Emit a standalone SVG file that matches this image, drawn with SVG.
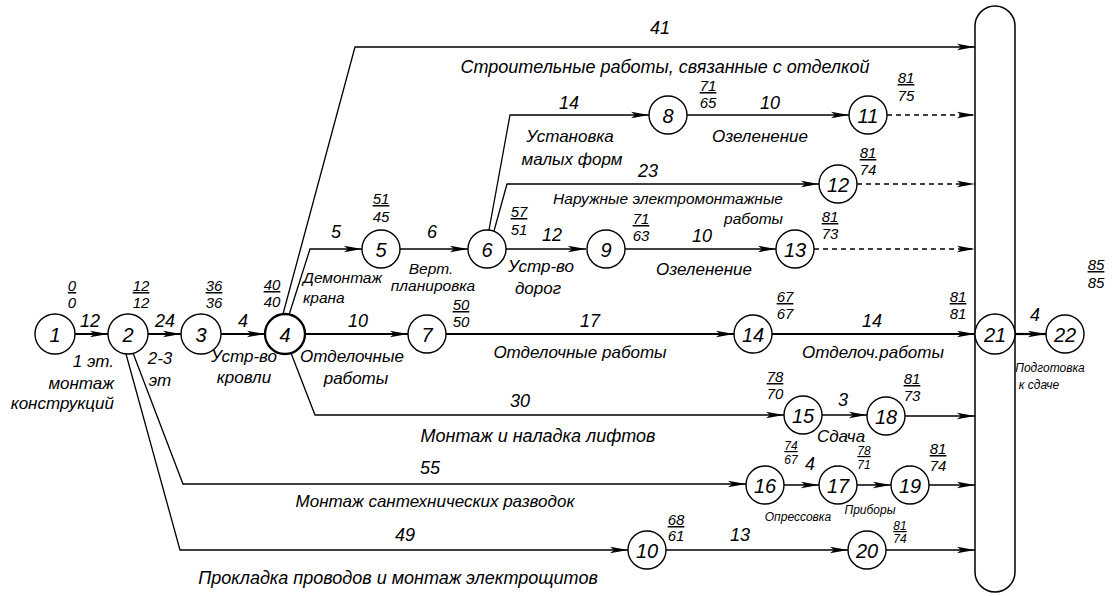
<svg xmlns="http://www.w3.org/2000/svg" width="1113" height="596" viewBox="0 0 1113 596">
<defs>
<marker id="ar" viewBox="0 0 18 8" refX="18" refY="4" markerWidth="18" markerHeight="8" markerUnits="userSpaceOnUse" orient="auto">
<path d="M0,0.8 L18,4 L0,7.2 L4,4 Z" fill="#000"/>
</marker>
</defs>
<style>
text{font-family:"Liberation Sans",Arial,sans-serif;font-style:italic;fill:#000}
.n{font-size:20px;text-anchor:middle;dominant-baseline:central}
.nc{fill:#fff;stroke:#000;stroke-width:1.4}
.d{font-size:18px;text-anchor:middle}
.t{font-size:17px;text-anchor:middle}
.tm{font-size:15.5px;text-anchor:middle}
.ts{font-size:12px;text-anchor:middle}
.f{font-size:15px;text-anchor:middle}
.fs{font-size:12px;text-anchor:middle}
.u{text-decoration:underline}
.e{fill:none;stroke:#000;stroke-width:1.3}
.k{fill:none;stroke:#000;stroke-width:2.2}
.ds{fill:none;stroke:#000;stroke-width:1.3;stroke-dasharray:5 4}
</style>
<rect width="1113" height="596" fill="#fff"/>

<g id="connectors">
<path class="k" d="M75,334 H108" marker-end="url(#ar)"/>
<path class="k" d="M148,334 H181" marker-end="url(#ar)"/>
<path class="k" d="M221,334 H265" marker-end="url(#ar)"/>
<path class="e" d="M283,314 L355,47 H975" marker-end="url(#ar)"/>
<path class="e" d="M289,315 L310,249 H362" marker-end="url(#ar)"/>
<path class="e" d="M400,249 H468" marker-end="url(#ar)"/>
<path class="k" d="M305,334 H408" marker-end="url(#ar)"/>
<path class="e" d="M489,230 L510,115 H649" marker-end="url(#ar)"/>
<path class="e" d="M494,231 L507,184 H819" marker-end="url(#ar)"/>
<path class="e" d="M506,249 H586" marker-end="url(#ar)"/>
<path class="e" d="M687,115 H849" marker-end="url(#ar)"/>
<path class="e" d="M625,249 H776" marker-end="url(#ar)"/>
<path class="ds" d="M887,115 H975" marker-end="url(#ar)"/>
<path class="ds" d="M857,184 H975" marker-end="url(#ar)"/>
<path class="ds" d="M814,249 H975" marker-end="url(#ar)"/>
<path class="k" d="M446,334 H734" marker-end="url(#ar)"/>
<path class="k" d="M772,334 H975" marker-end="url(#ar)"/>
<path class="e" d="M291,353 L315,415 H784" marker-end="url(#ar)"/>
<path class="e" d="M822,415 H867" marker-end="url(#ar)"/>
<path class="e" d="M905,416 H975" marker-end="url(#ar)"/>
<path class="e" d="M133,353 L183,484 H746" marker-end="url(#ar)"/>
<path class="e" d="M784,485 H819" marker-end="url(#ar)"/>
<path class="e" d="M857,485 H891" marker-end="url(#ar)"/>
<path class="e" d="M929,485 H975" marker-end="url(#ar)"/>
<path class="e" d="M126,354 L180,550 H628" marker-end="url(#ar)"/>
<path class="e" d="M666,550 H848" marker-end="url(#ar)"/>
<path class="e" d="M886,550 H975" marker-end="url(#ar)"/>
<path class="k" d="M1015,334 H1046" marker-end="url(#ar)"/>
</g>

<g id="node-bar"><rect x="975" y="6" width="40" height="586" rx="20" ry="20" fill="#fff" stroke="#000" stroke-width="1.5"/></g>

<g id="node1"><circle class="nc" cx="55" cy="334" r="20"/><text class="n" x="55" y="335">1</text></g>
<g id="node2"><circle class="nc" cx="128" cy="334" r="20"/><text class="n" x="128" y="335">2</text></g>
<g id="node3"><circle class="nc" cx="201" cy="334" r="20"/><text class="n" x="201" y="335">3</text></g>
<g id="node4"><circle class="nc" cx="285" cy="334" r="20" style="stroke-width:2.3"/><text class="n" x="285" y="335">4</text></g>
<g id="node5"><circle class="nc" cx="381" cy="249" r="19"/><text class="n" x="381" y="250">5</text></g>
<g id="node6"><circle class="nc" cx="487" cy="249" r="19"/><text class="n" x="487" y="250">6</text></g>
<g id="node7"><circle class="nc" cx="427" cy="334" r="19"/><text class="n" x="427" y="335">7</text></g>
<g id="node8"><circle class="nc" cx="668" cy="115" r="19"/><text class="n" x="668" y="116">8</text></g>
<g id="node9"><circle class="nc" cx="606" cy="249" r="19"/><text class="n" x="606" y="250">9</text></g>
<g id="node10"><circle class="nc" cx="647" cy="550" r="19"/><text class="n" x="647" y="551">10</text></g>
<g id="node11"><circle class="nc" cx="868" cy="115" r="19"/><text class="n" x="868" y="116">11</text></g>
<g id="node12"><circle class="nc" cx="838" cy="184" r="19"/><text class="n" x="838" y="185">12</text></g>
<g id="node13"><circle class="nc" cx="795" cy="249" r="19"/><text class="n" x="795" y="250">13</text></g>
<g id="node14"><circle class="nc" cx="753" cy="334" r="19"/><text class="n" x="753" y="335">14</text></g>
<g id="node15"><circle class="nc" cx="803" cy="415" r="19"/><text class="n" x="803" y="416">15</text></g>
<g id="node16"><circle class="nc" cx="765" cy="485" r="19"/><text class="n" x="765" y="486">16</text></g>
<g id="node17"><circle class="nc" cx="838" cy="485" r="19"/><text class="n" x="838" y="486">17</text></g>
<g id="node18"><circle class="nc" cx="886" cy="416" r="19"/><text class="n" x="886" y="417">18</text></g>
<g id="node19"><circle class="nc" cx="910" cy="485" r="19"/><text class="n" x="910" y="486">19</text></g>
<g id="node20"><circle class="nc" cx="867" cy="550" r="19"/><text class="n" x="867" y="551">20</text></g>
<g id="node21"><circle class="nc" cx="995" cy="334" r="20"/><text class="n" x="995" y="335">21</text></g>
<g id="node22"><circle class="nc" cx="1065" cy="334" r="19"/><text class="n" x="1065" y="335">22</text></g>

<g id="times">
<text class="f u" x="72" y="291">0</text><text class="f" x="72" y="308">0</text>
<text class="f u" x="141" y="291">12</text><text class="f" x="141" y="308">12</text>
<text class="f u" x="214" y="291">36</text><text class="f" x="214" y="308">36</text>
<text class="f u" x="272" y="290">40</text><text class="f" x="272" y="307">40</text>
<text class="f u" x="381" y="204">51</text><text class="f" x="381" y="222">45</text>
<text class="f u" x="519" y="217">57</text><text class="f" x="519" y="235">51</text>
<text class="f u" x="461" y="310">50</text><text class="f" x="461" y="327">50</text>
<text class="f u" x="708" y="91">71</text><text class="f" x="708" y="108">65</text>
<text class="f u" x="906" y="83">81</text><text class="f" x="906" y="101">75</text>
<text class="f u" x="868" y="158">81</text><text class="f" x="868" y="175">74</text>
<text class="f u" x="641" y="224">71</text><text class="f" x="641" y="241">63</text>
<text class="f u" x="830" y="222">81</text><text class="f" x="830" y="239">73</text>
<text class="f u" x="785" y="302">67</text><text class="f" x="785" y="319">67</text>
<text class="f u" x="958" y="302">81</text><text class="f" x="958" y="319">81</text>
<text class="f u" x="1096" y="270">85</text><text class="f" x="1096" y="288">85</text>
<text class="f u" x="775" y="382">78</text><text class="f" x="775" y="399">70</text>
<text class="f u" x="912" y="384">81</text><text class="f" x="912" y="401">73</text>
<text class="fs u" x="791" y="450">74</text><text class="fs" x="791" y="464">67</text>
<text class="fs u" x="864" y="455">78</text><text class="fs" x="864" y="469">71</text>
<text class="f u" x="938" y="454">81</text><text class="f" x="938" y="471">74</text>
<text class="f u" x="676" y="525">68</text><text class="f" x="676" y="541">61</text>
<text class="fs u" x="900" y="530">81</text><text class="fs" x="900" y="543">74</text>
</g>

<g id="labels">
<text class="d" x="90" y="327">12</text>
<text class="d" x="165" y="327">24</text>
<text class="d" x="243" y="327">4</text>
<text class="t" x="114" y="367" style="text-anchor:end">1 эт.</text>
<text class="t" x="114" y="389" style="text-anchor:end">монтаж</text>
<text class="t" x="114" y="409" style="text-anchor:end">конструкций</text>
<text class="t" x="160" y="364">2-3</text>
<text class="t" x="160" y="386">эт</text>
<text class="t" x="244" y="362">Устр-во</text>
<text class="t" x="244" y="383">кровли</text>
<text class="d" x="336" y="238">5</text>
<text class="d" x="432" y="238">6</text>
<text class="tm" x="303" y="283" style="text-anchor:start">Демонтаж</text>
<text class="tm" x="303" y="303" style="text-anchor:start">крана</text>
<text class="tm" x="431" y="274">Верт.</text>
<text class="tm" x="433" y="291">планировка</text>
<text class="d" x="358" y="327">10</text>
<text class="t" x="352" y="362">Отделочные</text>
<text class="t" x="356" y="384">работы</text>
<text class="d" x="552" y="241">12</text>
<text class="t" x="541" y="272">Устр-во</text>
<text class="t" x="538" y="294">дорог</text>
<text class="d" x="569" y="109">14</text>
<text class="t" x="570" y="142">Установка</text>
<text class="t" x="572" y="165">малых форм</text>
<text class="d" x="770" y="109">10</text>
<text class="t" x="760" y="142">Озеленение</text>
<text class="d" x="648" y="177">23</text>
<text class="tm" x="668" y="204">Наружные электромонтажные</text>
<text class="tm" x="783" y="224" style="text-anchor:end">работы</text>
<text class="d" x="702" y="242">10</text>
<text class="t" x="704" y="275">Озеленение</text>
<text class="d" x="590" y="327">17</text>
<text class="t" x="580" y="358">Отделочные работы</text>
<text class="d" x="872" y="327">14</text>
<text class="t" x="873" y="358">Отделоч.работы</text>
<text class="d" x="660" y="34">41</text>
<text class="t" x="665" y="73" style="font-size:18px">Строительные работы, связанные с отделкой</text>
<text class="d" x="520" y="407">30</text>
<text class="t" x="538" y="442" style="font-size:18px">Монтаж и наладка лифтов</text>
<text class="d" x="843" y="406">3</text>
<text class="t" x="841" y="442">Сдача</text>
<text class="d" x="430" y="474">55</text>
<text class="t" x="435" y="507">Монтаж сантехнических разводок</text>
<text class="d" x="405" y="541">49</text>
<text class="t" x="398" y="584" style="font-size:18px">Прокладка проводов и монтаж электрощитов</text>
<text class="d" x="740" y="541">13</text>
<text class="d" x="810" y="470">4</text>
<text class="ts" x="798" y="521">Опрессовка</text>
<text class="ts" x="870" y="514">Приборы</text>
<text class="d" x="1035" y="321">4</text>
<text class="ts" x="1050" y="372">Подготовка</text>
<text class="ts" x="1039" y="389">к сдаче</text>
</g>
</svg>
